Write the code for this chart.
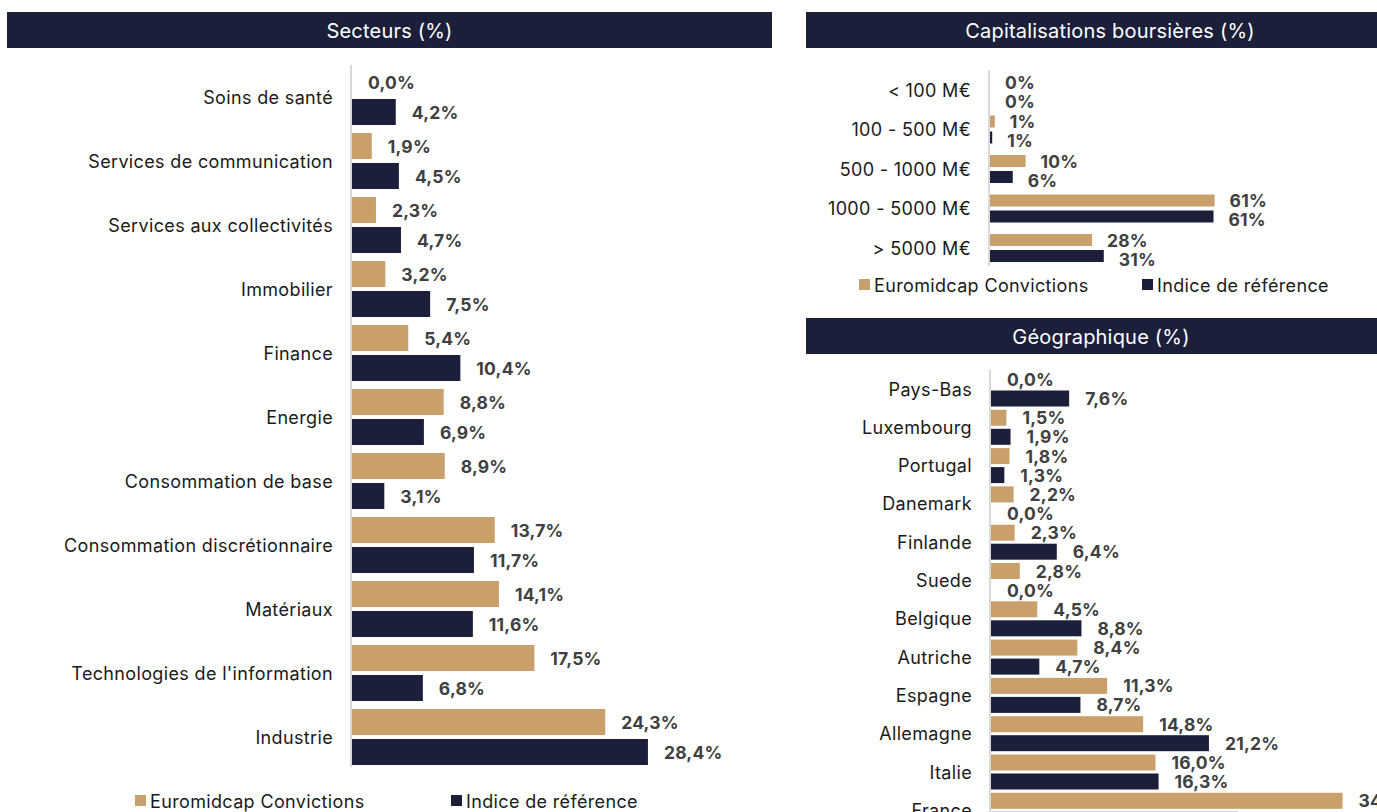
<!DOCTYPE html>
<html lang="fr">
  <head>
    <meta charset="UTF-8" />
    <title>Répartition du portefeuille</title>
    <script src="https://d3js.org/d3.v7.min.js"></script>
    <style>
      body {
        margin: 0;
        background-color: #ffffff;
        font-family: Inter, "Noto Sans", sans-serif;
        overflow: hidden;
      }
      .header-title {
        fill: #ffffff;
        font-size: 20px;
        letter-spacing: 0.2px;
      }
      .cat-label {
        fill: #1a1a1a;
        font-size: 18px;
        letter-spacing: 0.35px;
      }
      .value-label {
        fill: #404040;
        font-size: 17.5px;
        font-weight: 700;
        letter-spacing: 0.2px;
      }
      .legend text {
        fill: #1a1a1a;
        font-size: 18px;
        letter-spacing: 0.35px;
      }
    </style>
  </head>
  <body>
    <div id="chart"></div>

    <script>
      // Secteurs (%)
      const sectors = [
        "Soins de santé",
        "Services de communication",
        "Services aux collectivités",
        "Immobilier",
        "Finance",
        "Energie",
        "Consommation de base",
        "Consommation discrétionnaire",
        "Matériaux",
        "Technologies de l'information",
        "Industrie",
      ];
      const sectorsFund = [0.0, 1.9, 2.3, 3.2, 5.4, 8.8, 8.9, 13.7, 14.1, 17.5, 24.3];
      const sectorsIndex = [4.2, 4.5, 4.7, 7.5, 10.4, 6.9, 3.1, 11.7, 11.6, 6.8, 28.4];

      // Capitalisations boursières (%)
      const caps = ["< 100 M€", "100 - 500 M€", "500 - 1000 M€", "1000 - 5000 M€", "> 5000 M€"];
      const capsFund = [0.0, 1.3, 9.7, 61.2, 27.8];
      const capsIndex = [0.0, 0.6, 6.2, 60.9, 31.0];

      // Géographique (%)
      const countries = [
        "Pays-Bas",
        "Luxembourg",
        "Portugal",
        "Danemark",
        "Finlande",
        "Suede",
        "Belgique",
        "Autriche",
        "Espagne",
        "Allemagne",
        "Italie",
        "France",
      ];
      const countriesFund = [0.0, 1.5, 1.8, 2.2, 2.3, 2.8, 4.5, 8.4, 11.3, 14.8, 16.0, 34.2];
      const countriesIndex = [7.6, 1.9, 1.3, 0.0, 6.4, 0.0, 8.8, 4.7, 8.7, 21.2, 16.3, 24.0];

      const seriesNames = ["Euromidcap Convictions", "Indice de référence"];

      const gold = "#c9a06b";
      const navy = "#1b1f3a";
      const axisGrey = "#d9d9d9";

      const svg = d3
        .select("#chart")
        .append("svg")
        .attr("width", 1377)
        .attr("height", 812);

      svg.append("rect").attr("width", 1377).attr("height", 812).attr("fill", "#fff");

      const fmt1 = (v) => d3.format(".1f")(v).replace(".", ",") + "%";
      const fmt0 = (v) => d3.format(".0f")(v) + "%";

      function header(x, width, y, title) {
        svg
          .append("rect")
          .attr("x", x)
          .attr("y", y)
          .attr("width", width)
          .attr("height", 36)
          .attr("fill", navy);
        svg
          .append("text")
          .attr("class", "header-title")
          .attr("x", x + width / 2)
          .attr("y", y + 19)
          .attr("text-anchor", "middle")
          .attr("dominant-baseline", "central")
          .text(title);
      }

      function panel(opts) {
        const n = opts.cats.length;
        const groupH = opts.barH * 2 + opts.gap;
        const pIn = 1 - groupH / opts.step;

        const y = d3
          .scaleBand()
          .domain(opts.cats)
          .range([opts.top, opts.top + opts.step * n])
          .paddingInner(pIn)
          .paddingOuter(pIn / 2);

        const sub = d3
          .scaleBand()
          .domain(["fund", "index"])
          .range([0, y.bandwidth()])
          .paddingInner(opts.gap / (opts.barH + opts.gap));

        const x = d3
          .scaleLinear()
          .domain([0, opts.max])
          .range([opts.x0, opts.x0 + opts.k * opts.max]);

        const g = svg.append("g");

        const rows = opts.cats.map((c, i) => ({
          cat: c,
          fund: opts.fund[i],
          index: opts.index[i],
        }));

        const group = g
          .selectAll(".grp")
          .data(rows)
          .enter()
          .append("g")
          .attr("transform", (d) => `translate(0,${y(d.cat)})`);

        ["fund", "index"].forEach((key) => {
          group
            .append("rect")
            .attr("x", x(0))
            .attr("y", sub(key))
            .attr("width", (d) => x(d[key]) - x(0))
            .attr("height", sub.bandwidth())
            .attr("fill", key === "fund" ? gold : navy);

          group
            .append("text")
            .attr("class", "value-label")
            .attr("x", (d) => x(d[key]) + opts.labelPad)
            .attr("y", sub(key) + sub.bandwidth() / 2 + (key === "index" ? opts.idxShift : 0))
            .attr("dominant-baseline", "central")
            .text((d) => opts.fmt(d[key]));
        });

        // category labels
        group
          .append("text")
          .attr("class", "cat-label")
          .attr("x", opts.x0 - 19)
          .attr("y", y.bandwidth() / 2)
          .attr("text-anchor", "end")
          .attr("dominant-baseline", "central")
          .text((d) => d.cat);

        // axis line
        g.append("line")
          .attr("x1", x(0) - 1)
          .attr("x2", x(0) - 1)
          .attr("y1", opts.top)
          .attr("y2", opts.axisEnd)
          .attr("stroke", axisGrey)
          .attr("stroke-width", 2);
      }

      function legend(x1, x2, y) {
        const lg = svg.append("g").attr("class", "legend");
        [x1, x2].forEach((lx, i) => {
          lg.append("rect")
            .attr("x", lx)
            .attr("y", y - 5)
            .attr("width", 11)
            .attr("height", 11)
            .attr("fill", i === 0 ? gold : navy);
          lg.append("text")
            .attr("x", lx + 15)
            .attr("y", y + 1)
            .attr("dominant-baseline", "central")
            .text(seriesNames[i]);
        });
      }

      // left panel
      header(7, 765, 12, "Secteurs (%)");
      panel({
        cats: sectors,
        fund: sectorsFund,
        index: sectorsIndex,
        top: 65,
        step: 64,
        barH: 26,
        gap: 4,
        x0: 352,
        k: 10.42,
        max: 30,
        fmt: fmt1,
        labelPad: 16,
        idxShift: 0,
        axisEnd: 767,
      });
      legend(135, 451, 800);

      // top right panel
      header(806, 608, 12, "Capitalisations boursières (%)");
      panel({
        cats: caps,
        fund: capsFund,
        index: capsIndex,
        top: 70.25,
        step: 39.5,
        barH: 12,
        gap: 4,
        x0: 990,
        k: 3.67,
        max: 70,
        fmt: fmt0,
        labelPad: 15,
        idxShift: 3,
        axisEnd: 266,
      });
      legend(859, 1142, 284);

      // bottom right panel
      header(806, 590, 318, "Géographique (%)");
      panel({
        cats: countries,
        fund: countriesFund,
        index: countriesIndex,
        top: 369.85,
        step: 38.3,
        barH: 16,
        gap: 3,
        x0: 991,
        k: 10.28,
        max: 40,
        fmt: fmt1,
        labelPad: 16,
        idxShift: 0,
        axisEnd: 830,
      });
    </script>
  </body>
</html>
